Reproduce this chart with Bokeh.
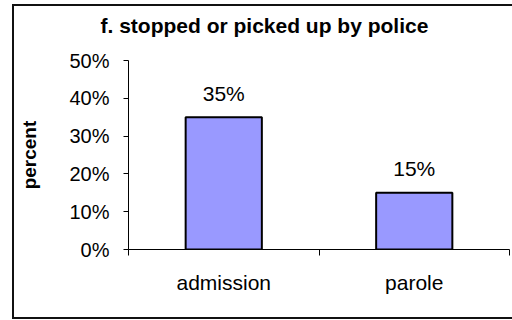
from bokeh.plotting import figure
from bokeh.models import Range1d, FixedTicker, NumeralTickFormatter, Title, InlineStyleSheet
from bokeh.core.properties import value
from bokeh.embed import file_html
from bokeh.resources import INLINE

categories = ["admission", "parole"]
percents = [0.35, 0.15]
y_ticks = [0.0, 0.1, 0.2, 0.3, 0.4, 0.5]
title_text = "f. stopped or picked up by police"
y_label = "percent"

FONT = "Liberation Sans"

p = figure(width=512, height=320, output_backend="svg", toolbar_location=None,
           x_range=Range1d(0, len(categories)), y_range=Range1d(0, 0.5),
           min_border_left=128, min_border_right=3, min_border_top=60, min_border_bottom=71)
p.background_fill_color = "white"
p.border_fill_color = "white"
p.outline_line_color = None
p.xgrid.visible = False
p.ygrid.visible = False

centers = [i + 0.5 for i in range(len(categories))]
p.vbar(x=centers, top=percents, width=0.4, bottom=0,
       fill_color="#9999FF", line_color="black", line_width=2)

labels = [f"{round(v * 100)}%" for v in percents]
p.text(x=centers, y=percents, text=labels, text_align="center", text_baseline="alphabetic",
       y_offset=-24, text_font=value(FONT), text_font_size="21px", text_color="black")

# x axis
xa = p.xaxis[0]
xa.ticker = FixedTicker(ticks=centers, minor_ticks=list(range(len(categories) + 1)))
xa.major_label_overrides = {c: lab for c, lab in zip(centers, categories)}
xa.major_tick_out = 0
xa.major_tick_in = 0
xa.minor_tick_out = 6
xa.minor_tick_in = 0
xa.minor_tick_line_color = "black"
xa.axis_line_color = "black"
xa.major_label_text_font = FONT
xa.major_label_text_font_size = "21px"
xa.major_label_text_color = "black"
xa.major_label_standoff = 15

# y axis
ya = p.yaxis[0]
ya.ticker = FixedTicker(ticks=y_ticks)
ya.formatter = NumeralTickFormatter(format="0%")
ya.major_tick_out = 5
ya.major_tick_in = 0
ya.minor_tick_out = 0
ya.minor_tick_in = 0
ya.major_tick_line_color = "black"
ya.axis_line_color = "black"
ya.major_label_text_font = FONT
ya.major_label_text_font_size = "20px"
ya.major_label_text_color = "black"
ya.major_label_standoff = 14
ya.axis_label = y_label
ya.axis_label_text_font = FONT
ya.axis_label_text_font_size = "19px"
ya.axis_label_text_font_style = "bold"
ya.axis_label_text_color = "black"
ya.axis_label_standoff = 26

t = Title(text=title_text, align="left", offset=-28, standoff=12,
          padding=dict(left=0, right=0, top=0, bottom=18), text_font=FONT,
          text_font_size="21px", text_font_style="bold", text_color="black")
p.add_layout(t, "above")

# outer chart-area border (left, top and bottom edges visible in the reference)
p.stylesheets = [InlineStyleSheet(css="""
:host { position: relative; }
:host::after {
  content: "";
  position: absolute;
  left: 12px; top: 4px; right: 0px; bottom: 1px;
  border: 2px solid #111;
  border-right: none;
  box-sizing: border-box;
  pointer-events: none;
}
""")]

open("out.html", "w").write(file_html(p, INLINE))
